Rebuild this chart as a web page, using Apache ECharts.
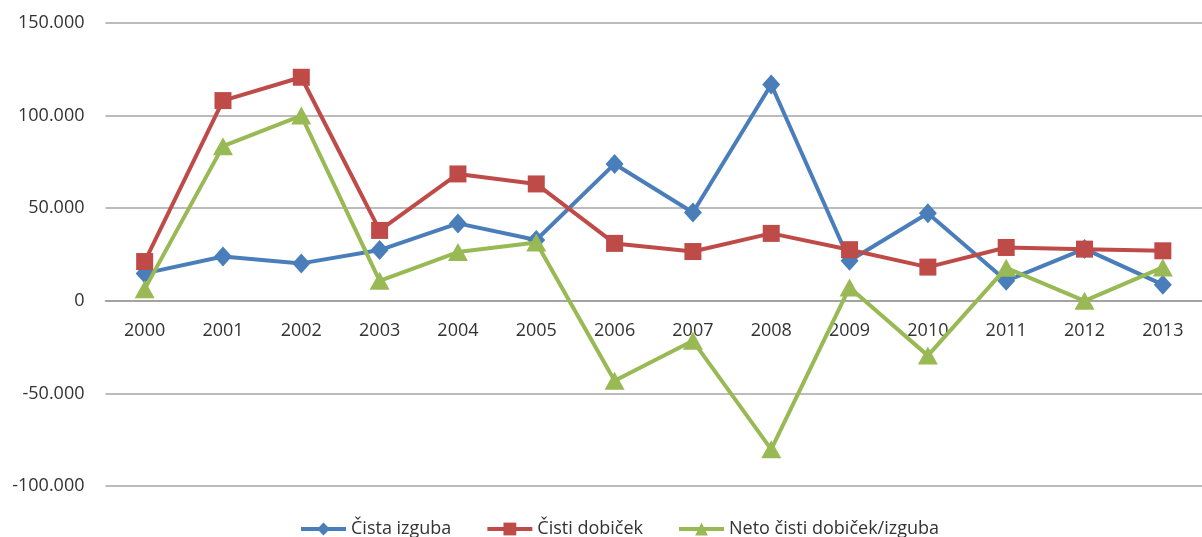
<!DOCTYPE html>
<html>
<head>
<meta charset="utf-8">
<script src="https://cdn.jsdelivr.net/npm/echarts@6/dist/echarts.min.js"></script>
<style>
html,body{margin:0;padding:0;background:#fff;}
#c{width:1202px;height:537px;}
</style>
</head>
<body>
<div id="c"></div>
<script>
const categories = ['2000','2001','2002','2003','2004','2005','2006','2007','2008','2009','2010','2011','2012','2013'];
const cistaIzguba = [14800, 23900, 20200, 27400, 41800, 32800, 73900, 47700, 116800, 21600, 47300, 10800, 28000, 8700];
const cistiDobicek = [21200, 108100, 120700, 38000, 68500, 63100, 31000, 26600, 36400, 27600, 18200, 28800, 27900, 27000];
const netoDobicekIzguba = [6300, 83500, 100000, 10800, 26300, 31500, -43200, -21600, -80200, 7200, -29600, 17800, 0, 18000];
const seriesNames = ['\u010Cista izguba', '\u010Cisti dobi\u010Dek', 'Neto \u010Disti dobi\u010Dek/izguba'];
const yMin = -100000, yMax = 150000, yInterval = 50000;
const colors = ['#4A7EBB', '#BE4B48', '#98B954'];

const font = 'Open Sans';
function fmt(v){
  const s = Math.abs(v).toString().replace(/\B(?=(\d{3})+(?!\d))/g, '.');
  return (v < 0 ? '-' : '') + s;
}
const gridTop = 23, gridHeight = 463;
// place category axis on the zero line
const zeroOffset = -gridHeight * (0 - yMin) / (yMax - yMin);

const chart = echarts.init(document.getElementById('c'), null, {renderer:'canvas'});
chart.setOption({
  animation:false,
  backgroundColor:'#fff',
  textStyle:{fontFamily:font},
  grid:{left:105.5, top:gridTop, width:1105, height:gridHeight, containLabel:false},
  legend:{
    top:515, left:294,
    itemWidth:45, itemHeight:16, itemGap:34,
    lineStyle:{width:4},
    textStyle:{fontFamily:font, fontSize:18, color:'#333'},
    data:seriesNames
  },
  xAxis:{
    type:'category', data:categories, boundaryGap:true, position:'bottom',
    offset: zeroOffset,
    axisLine:{onZero:false, lineStyle:{color:'#9a9a9a', width:1.5}},
    axisTick:{show:false},
    axisLabel:{fontFamily:font, fontSize:18, color:'#333', margin:21, interval:0},
    splitLine:{show:false}
  },
  yAxis:{
    type:'value', min:yMin, max:yMax, interval:yInterval,
    axisLine:{show:false}, axisTick:{show:false},
    axisLabel:{fontFamily:font, fontSize:18, color:'#333', margin:21, formatter:fmt},
    splitLine:{lineStyle:{color:'#a6a6a6', width:1.5}}
  },
  series:[
    {name:seriesNames[0], type:'line', data:cistaIzguba, symbol:'diamond', symbolSize:[18,20],
     lineStyle:{width:4, color:colors[0]}, itemStyle:{color:colors[0]}, z:3},
    {name:seriesNames[1], type:'line', data:cistiDobicek, symbol:'rect', symbolSize:17,
     lineStyle:{width:4, color:colors[1]}, itemStyle:{color:colors[1]}, z:4},
    {name:seriesNames[2], type:'line', data:netoDobicekIzguba, symbol:'triangle', symbolSize:[20,18],
     lineStyle:{width:4, color:colors[2]}, itemStyle:{color:colors[2]}, z:5}
  ]
});
</script>
</body>
</html>
